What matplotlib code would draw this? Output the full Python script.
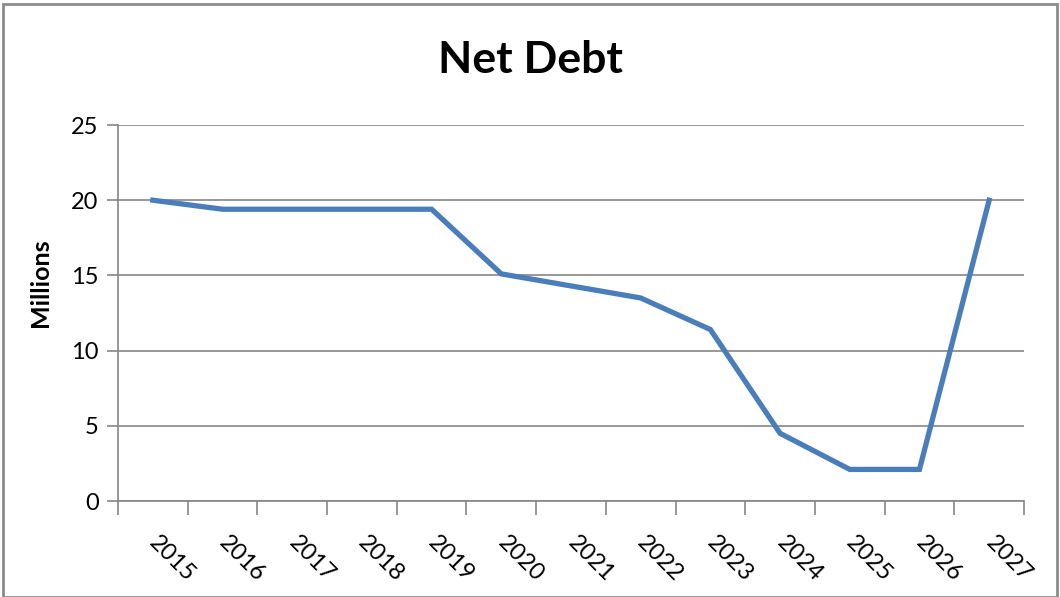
import matplotlib
matplotlib.use("Agg")
import matplotlib.pyplot as plt
import matplotlib.patches as patches
import numpy as np

# Chart data
years = ['2015', '2016', '2017', '2018', '2019', '2020', '2021',
         '2022', '2023', '2024', '2025', '2026', '2027']
net_debt = [20.0, 19.4, 19.4, 19.4, 19.4, 15.1, 14.3,
            13.5, 11.4, 4.5, 2.1, 2.1, 20.0]
y_ticks = [0, 5, 10, 15, 20, 25]

LINE_COLOR = '#4A7EBB'
GRID_COLOR = '#868686'

plt.rcParams['font.family'] = ['Lato', 'DejaVu Sans']

fig = plt.figure(figsize=(10.6, 5.97), dpi=100)
ax = fig.add_axes([118 / 1060, 1 - 501 / 597, (1024 - 118) / 1060, (501 - 125) / 597])

x = np.arange(len(years))
ax.plot(x, net_debt, color=LINE_COLOR, lw=3.8, solid_joinstyle='miter')

# Axes limits and grid
ax.set_xlim(-0.5, len(years) - 0.5)
ax.set_ylim(0, 25)
ax.set_yticks(y_ticks)
ax.set_yticklabels([str(t) for t in y_ticks], fontsize=17)
ax.yaxis.grid(True, color=GRID_COLOR, lw=1.2)
ax.set_axisbelow(True)
ax.tick_params(axis='y', length=8, width=1.2, color=GRID_COLOR, pad=6)

# Category ticks between labels, labels at centres
ax.set_xticks(np.arange(-0.5, len(years), 1.0), minor=True)
ax.set_xticks(x)
ax.set_xticklabels(years, fontsize=17, rotation=-45, ha='left', va='center',
                   rotation_mode='anchor')
ax.tick_params(axis='x', which='major', length=0, pad=28)
ax.tick_params(axis='x', which='minor', length=10, width=1.2, color=GRID_COLOR)

for side in ['top', 'right']:
    ax.spines[side].set_visible(False)
for side in ['left', 'bottom']:
    ax.spines[side].set_color(GRID_COLOR)
    ax.spines[side].set_linewidth(1.2)

fig.text(41 / 1060, 1 - 283 / 597, 'Millions', rotation=90, ha='center',
         va='center', fontsize=18, fontweight='bold')

fig.text(0.5, 1 - 60 / 597, 'Net Debt', ha='center', va='center',
         fontsize=32, fontweight='bold')

# Chart border
fig.patches.append(patches.Rectangle((3 / 1060, 0), 1 - 6 / 1060, 1 - 4 / 597,
                                     transform=fig.transFigure, fill=False,
                                     ec='#8C8C8C', lw=2))

fig.savefig('out.png', dpi=100)
